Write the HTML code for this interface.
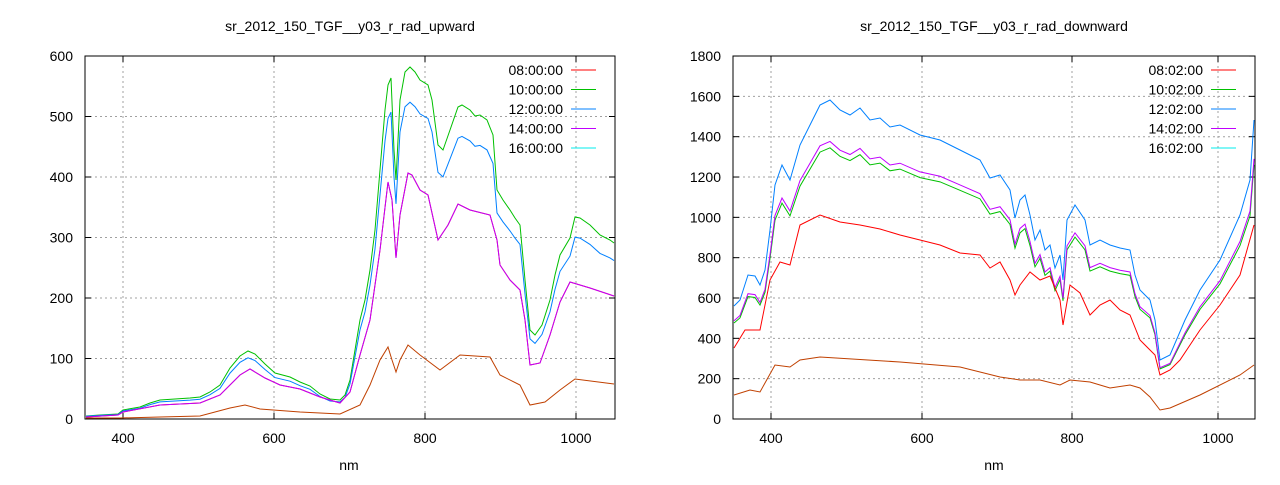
<!DOCTYPE html>
<html><head><meta charset="utf-8"><style>
body{margin:0;background:#fff;width:1280px;height:480px;overflow:hidden}
svg text{font-family:"Liberation Sans",sans-serif;font-size:14px;fill:#000}
</style></head><body>
<svg id="s" width="1280" height="480" xmlns="http://www.w3.org/2000/svg">
<text x="350" y="31" text-anchor="middle">sr_2012_150_TGF__y03_r_rad_upward</text>
<text x="994" y="31" text-anchor="middle">sr_2012_150_TGF__y03_r_rad_downward</text>
<text x="349" y="470" text-anchor="middle">nm</text>
<text x="994" y="470" text-anchor="middle">nm</text>
</svg>
<script>
const s=document.getElementById('s');const NS='http://www.w3.org/2000/svg';
function el(t,a,txt){const e=document.createElementNS(NS,t);for(const k in a)e.setAttribute(k,a[k]);if(txt)e.textContent=txt;s.appendChild(e);return e;}
function axes(L,R,T,B,xt,yt){
 xt.forEach(([px,l])=>{el('line',{x1:px,x2:px,y1:T,y2:B,stroke:'#a0a0a0','stroke-dasharray':'2,3'});
  el('line',{x1:px,x2:px,y1:B,y2:B-6,stroke:'#000'});el('line',{x1:px,x2:px,y1:T,y2:T+6,stroke:'#000'});
  el('text',{x:px,y:B+24,'text-anchor':'middle'},l);});
 yt.forEach(([py,l])=>{el('line',{x1:L,x2:R,y1:py,y2:py,stroke:'#a0a0a0','stroke-dasharray':'2,3'});
  el('line',{x1:L,x2:L+6,y1:py,y2:py,stroke:'#000'});el('line',{x1:R,x2:R-6,y1:py,y2:py,stroke:'#000'});
  el('text',{x:L-12,y:py+5,'text-anchor':'end'},l);});
 el('rect',{x:L,y:T,width:R-L,height:B-T,fill:'none',stroke:'#000'});
}
function path(pts,c){el('polyline',{points:pts.map(p=>p.join(',')).join(' '),fill:'none',stroke:c,'stroke-width':1});}
function scale(pts,f,B){return pts.map(([x,y])=>[x,B-(B-y)*f]);}
function legend(R,T,labels){const cols=['#ff0000','#00c000','#0080ff','#c000ff','#00eeee'];
 labels.forEach((l,i)=>{const y=T+14+i*19.5;el('text',{x:R-52,y:y+5,'text-anchor':'end'},l);
  el('line',{x1:R-44,x2:R-19,y1:y,y2:y,stroke:cols[i]});});}
// LEFT
const B=419;
axes(85,615,56,419,[[123,'400'],[274,'600'],[425,'800'],[576,'1000']],
 [0,1,2,3,4,5,6].map(i=>[419-i*60.5,String(i*100)]));
const g=[[86,416],[100,415],[118,414],[123,410],[140,407],[150,403],[160,400],[175,399],[190,398],[200,397],[210,392],[220,385],[230,368],[240,356],[248,351],[255,354],[265,364],[275,373],[290,377],[300,382],[310,386],[320,394],[330,399],[340,400],[345,395],[350,380],[355,350],[360,320],[365,300],[370,270],[375,230],[380,170],[385,110],[388,85],[391,78],[394,150],[396,180],[400,100],[405,72],[410,67],[415,72],[420,80],[428,85],[432,100],[438,145],[443,150],[450,130],[458,107],[462,105],[470,110],[475,116],[480,115],[487,120],[493,135],[497,190],[503,200],[510,210],[515,218],[520,225],[525,280],[530,330],[535,335],[542,325],[550,300],[555,275],[560,255],[570,238],[575,217],[580,218],[590,225],[600,235],[610,240],[614,243]];
path(g,'#00c000');
path(scale(g,0.9,B),'#0080ff');
const m=[[86,417],[118,415],[123,412],[160,405],[200,403],[220,395],[240,375],[250,369],[265,378],[280,385],[300,389],[320,397],[340,403],[350,392],[360,355],[370,320],[380,250],[388,182],[392,200],[396,258],[400,215],[408,173],[412,175],[420,190],[428,195],[438,240],[448,225],[458,204],[470,210],[490,215],[497,240],[500,265],[510,280],[520,290],[525,320],[530,365],[540,363],[550,335],[560,302],[570,282],[590,288],[614,296]];
path(m,'#ff0000');path(m,'#c000ff');
const br=[[86,418],[120,418],[160,417],[200,416],[230,408],[245,405],[260,409],[300,412],[340,414],[360,405],[370,385],[380,360],[388,347],[392,360],[396,372],[400,360],[408,345],[420,355],[440,370],[460,355],[490,357],[500,375],[520,385],[530,405],[545,402],[560,390],[575,379],[614,384]];
path(br,'#c04000');
legend(615,56,['08:00:00','10:00:00','12:00:00','14:00:00','16:00:00']);
// RIGHT
axes(733,1255,56,419,[[771,'400'],[922,'600'],[1072,'800'],[1218,'1000']],
 [0,1,2,3,4,5,6,7,8,9].map(i=>[419-i*40.33,String(i*200)]));
const bl=[[734,306],[740,300],[748,275],[755,276],[760,285],[765,270],[770,230],[775,185],[782,165],[790,180],[800,145],[810,125],[820,105],[830,100],[840,110],[850,115],[860,108],[870,120],[880,118],[890,127],[900,125],[920,135],[940,140],[960,150],[980,160],[990,178],[1000,175],[1010,190],[1015,218],[1020,200],[1025,195],[1030,215],[1035,240],[1040,230],[1045,250],[1050,245],[1055,268],[1060,255],[1063,280],[1067,220],[1075,205],[1085,220],[1090,245],[1100,240],[1110,245],[1120,248],[1130,250],[1135,275],[1140,290],[1150,300],[1155,320],[1160,360],[1170,355],[1185,320],[1200,290],[1220,260],[1240,215],[1250,180],[1254,120]];
path(scale(bl,0.85,B),'#00c000');
path(scale(bl,0.87,B),'#c000ff');
path(bl,'#0080ff');
const rd=[[734,348],[745,330],[760,330],[770,280],[780,262],[790,265],[800,225],[820,215],[840,222],[860,225],[880,229],[900,235],[920,240],[940,245],[960,253],[980,255],[990,268],[1000,262],[1010,280],[1015,295],[1020,285],[1030,272],[1040,280],[1050,276],[1060,300],[1063,325],[1070,285],[1080,293],[1090,315],[1100,305],[1110,300],[1120,310],[1130,315],[1140,340],[1150,350],[1155,355],[1160,375],[1170,370],[1180,360],[1200,330],[1220,305],[1240,275],[1254,225]];
path(rd,'#ff0000');
const b2=[[734,395],[750,390],[760,392],[775,365],[790,367],[800,360],[820,357],[900,362],[960,367],[1000,377],[1020,380],[1040,380],[1060,385],[1070,380],[1090,382],[1100,385],[1110,388],[1130,385],[1140,388],[1150,397],[1160,410],[1170,408],[1200,395],[1240,375],[1254,365]];
path(b2,'#c04000');
legend(1255,56,['08:02:00','10:02:00','12:02:00','14:02:00','16:02:00']);
</script>
</body></html>
